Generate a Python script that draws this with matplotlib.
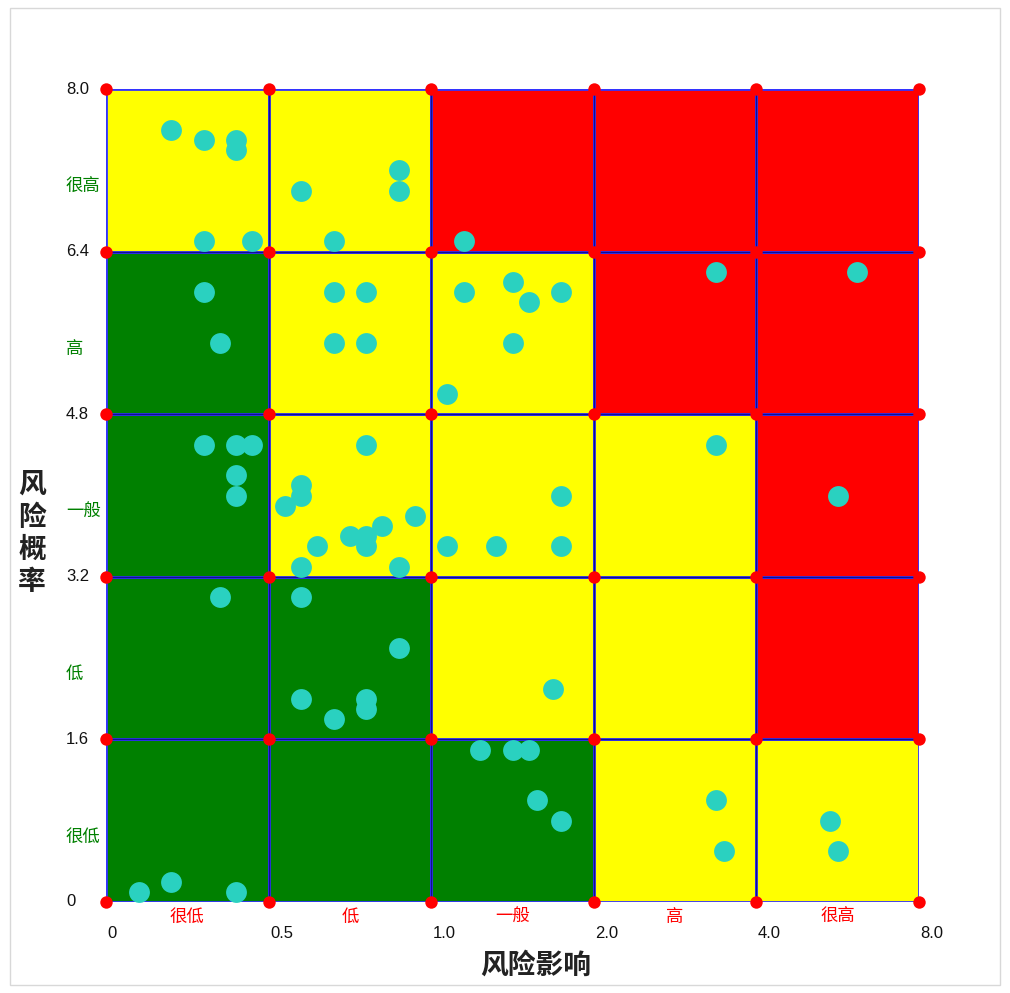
import matplotlib
matplotlib.use("Agg")
import matplotlib.pyplot as plt
from matplotlib.patches import Rectangle
import numpy as np

plt.rcParams['font.family'] = ['Liberation Sans', 'Noto Sans CJK SC', 'DejaVu Sans']

# ---- data ----
impact_ticks = ["0", "0.5", "1.0", "2.0", "4.0", "8.0"]
prob_ticks = ["0", "1.6", "3.2", "4.8", "6.4", "8.0"]
prob_values = [0, 1.6, 3.2, 4.8, 6.4, 8.0]
impact_levels = ["很低", "低", "一般", "高", "很高"]
prob_levels = ["很低", "低", "一般", "高", "很高"]
# risk level of each cell, rows from bottom (很低 probability) to top
cell_levels = [
    ["G", "G", "G", "Y", "Y"],
    ["G", "G", "Y", "Y", "R"],
    ["G", "Y", "Y", "Y", "R"],
    ["G", "Y", "Y", "R", "R"],
    ["Y", "Y", "R", "R", "R"],
]
level_colors = {"G": "#008000", "Y": "#ffff00", "R": "#ff0000"}

# risk points: impact (grid units 0-5), probability (0-8)
risk_impact = [
    0.4, 0.6, 0.8, 0.8, 0.6, 0.9,
    1.2, 1.8, 1.8, 1.4,
    2.2,
    3.75, 4.62,
    0.6, 0.7,
    1.4, 1.6, 1.4, 1.6,
    2.2, 2.5, 2.6, 2.8, 2.5, 2.1,
    0.6, 0.8, 0.9, 0.8, 0.8,
    1.6, 1.2, 1.2, 1.1, 1.9, 1.7, 1.5, 1.6, 1.6, 1.3, 1.2, 1.8,
    2.8, 2.1, 2.4, 2.8,
    3.75, 4.5,
    0.7, 1.2, 1.8, 1.2, 1.6, 1.6, 1.4, 2.75,
    2.3, 2.5, 2.6, 2.65, 2.8, 3.75, 3.8, 4.45, 4.5, 0.2, 0.4, 0.8,
]
risk_prob = [
    7.6, 7.5, 7.5, 7.4, 6.5, 6.5,
    7.0, 7.2, 7.0, 6.5,
    6.5,
    6.2, 6.2,
    6.0, 5.5,
    6.0, 6.0, 5.5, 5.5,
    6.0, 6.1, 5.9, 6.0, 5.5, 5.0,
    4.5, 4.5, 4.5, 4.2, 4.0,
    4.5, 4.1, 4.0, 3.9, 3.8, 3.7, 3.6, 3.6, 3.5, 3.5, 3.3, 3.3,
    4.0, 3.5, 3.5, 3.5,
    4.5, 4.0,
    3.0, 3.0, 2.5, 2.0, 2.0, 1.9, 1.8, 2.1,
    1.5, 1.5, 1.5, 1.0, 0.8, 1.0, 0.5, 0.8, 0.5, 0.1, 0.2, 0.1,
]

# ---- figure ----
W, H = 1010, 993
fig = plt.figure(figsize=(W / 100, H / 100), dpi=100)
fig.patches.append(Rectangle((10 / W, 1 - 985 / H), 990 / W, 977 / H,
                             transform=fig.transFigure, fill=False,
                             edgecolor='#d8d8d8', linewidth=1))

ax = fig.add_axes([106 / W, 1 - 902 / H, 813 / W, 813 / H])
ax.set_xlim(0, 5)
ax.set_ylim(0, 8)
ax.axis('off')

n = len(impact_levels)
ch = 8.0 / n
for r in range(n):
    for c in range(n):
        ax.add_patch(Rectangle((c, r * ch), 1, ch,
                               facecolor=level_colors[cell_levels[r][c]],
                               edgecolor='#3333ff', linewidth=2.0, zorder=1))
for i in range(1, n):
    ax.plot([i, i], [0, 8], color='#101090', lw=1.0, zorder=2)
    ax.plot([0, 5], [i * ch, i * ch], color='#101090', lw=1.0, zorder=2)

ax.scatter(risk_impact, risk_prob, s=225, color='#2ad1c0', zorder=4,
           linewidths=0, clip_on=False)

gx, gy = np.meshgrid(np.arange(n + 1), np.array(prob_values))
ax.scatter(gx.ravel(), gy.ravel(), s=80, color='#ff0000', zorder=5,
           linewidths=0, clip_on=False)

# y tick labels and levels
tr_y = ax.get_yaxis_transform()
for v, lab in zip(prob_values, prob_ticks):
    ax.text(-40 / 813, v, lab, transform=tr_y, ha='left', va='center',
            fontsize=12, color='#111111')
for i, lab in enumerate(prob_levels):
    ax.text(-40 / 813, (i + 0.4) * ch, lab, transform=tr_y, ha='left',
            va='center', fontsize=12.5, color='#008000')

# x tick labels and levels
tr_x = ax.get_xaxis_transform()
for i, lab in enumerate(impact_ticks):
    ax.text(i + 0.01, -32 / 813, lab, transform=tr_x, ha='left',
            va='center', fontsize=12, color='#111111')
for i, lab in enumerate(impact_levels):
    ax.text(i + 0.5, -15 / 813, lab, transform=tr_x, ha='center',
            va='center', fontsize=12.5, color='#ff0000')

# axis titles
fig.text(536 / W, 1 - 966 / H, "风险影响", ha='center', va='center',
         fontsize=20, fontweight='bold', color='#222222')
title_y = "风险概率"
for k, chr_ in enumerate(title_y):
    fig.text(32 / W, 1 - (486 + k * 32.5) / H, chr_, ha='center',
             va='center', fontsize=20, fontweight='bold', color='#222222')

fig.savefig("out.png", dpi=100)
